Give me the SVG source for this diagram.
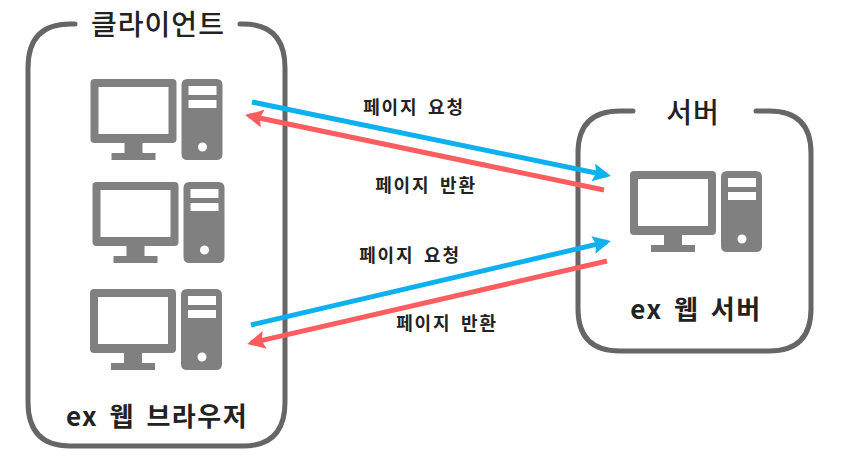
<svg xmlns="http://www.w3.org/2000/svg" width="860" height="462" viewBox="0 0 860 462">
<style>
text{font-family:"Noto Sans CJK KR","Noto Sans",sans-serif;fill:#222;text-anchor:middle}
.t{font-size:28px;font-weight:500;letter-spacing:1px}
.b{font-size:26px;font-weight:700;letter-spacing:1.500px;word-spacing:4px}
.l{font-size:18px;font-weight:700;letter-spacing:1.800px;word-spacing:4px}
.box{fill:none;stroke:#666;stroke-width:5;stroke-linecap:round}
.pc{fill:#808080;fill-rule:evenodd}
.blue{stroke:#0fb0ee;stroke-width:5;fill:none}
.red{stroke:#fb5d60;stroke-width:5;fill:none}
</style>
<defs>
<marker id="ab" markerUnits="userSpaceOnUse" markerWidth="20" markerHeight="20" refX="14" refY="9" orient="auto"><path d="M0 0L18 9L0 18L3 9Z" fill="#0fb0ee"/></marker>
<marker id="ar" markerUnits="userSpaceOnUse" markerWidth="20" markerHeight="20" refX="14" refY="9" orient="auto"><path d="M0 0L18 9L0 18L3 9Z" fill="#fb5d60"/></marker>
<symbol id="pc" overflow="visible">
<path class="pc" d="M4 0H82Q86 0 86 4V60Q86 64 82 64H52V74H65V81H21V74H34V64H4Q0 64 0 60V4Q0 0 4 0ZM8 8V55H78V8Z"/>
<path class="pc" d="M97 0H126Q132 0 132 6V75Q132 81 126 81H97Q91 81 91 75V6Q91 0 97 0ZM98 7V16H126V7ZM98 21V29H126V21ZM112 63.500A4.500 4.500 0 1 0 112 72.500A4.500 4.500 0 1 0 112 63.500Z"/>
</symbol>
</defs>
<g id="client">
<path class="box" d="M75 24H70Q28 24 28 68V402Q28 446 70 446H243Q285 446 285 402V68Q285 24 243 24H240"/>
<text class="t" x="158" y="35">클라이언트</text>
<use href="#pc" x="90.500" y="79"/>
<use href="#pc" x="92.500" y="182"/>
<use href="#pc" x="90" y="289"/>
<text class="b" x="157" y="426">ex 웹 브라우저</text>
</g>
<g id="server">
<path class="box" d="M633 111H620Q578 111 578 153V309Q578 351 620 351H769Q811 351 811 309V153Q811 111 769 111H756"/>
<text class="t" x="693" y="123">서버</text>
<use href="#pc" x="630" y="171"/>
<text class="b" x="696" y="319">ex 웹 서버</text>
</g>
<g id="connectors">
<path class="blue" marker-end="url(#ab)" d="M252 102L607 175.200"/>
<path class="red" marker-end="url(#ar)" d="M604 190L249 115.800"/>
<path class="blue" marker-end="url(#ab)" d="M251 325L607 241.900"/>
<path class="red" marker-end="url(#ar)" d="M607 261L251 343"/>
</g>
<g id="labels">
<text class="l" x="414" y="114">페이지 요청</text>
<text class="l" x="426" y="192">페이지 반환</text>
<text class="l" x="410" y="262">페이지 요청</text>
<text class="l" x="447" y="330">페이지 반환</text>
</g>
</svg>
